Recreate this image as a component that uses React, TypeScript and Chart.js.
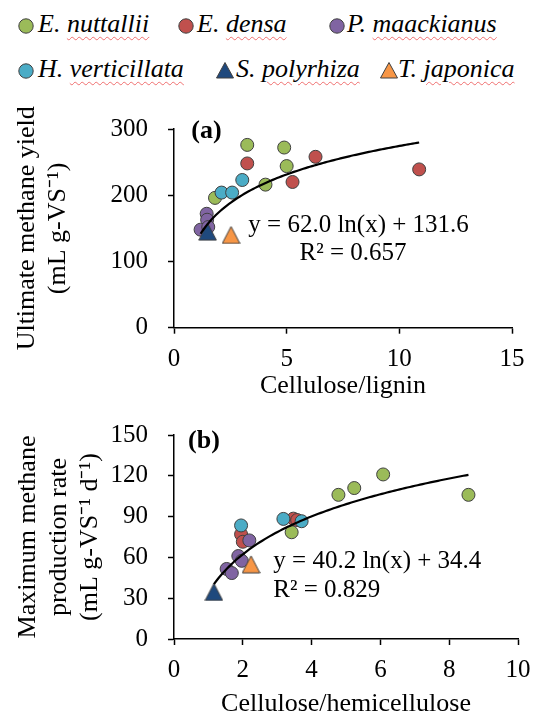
import React, { useEffect, useRef } from 'react';
import { Chart, registerables } from 'chart.js';

Chart.register(...registerables);

const FONT = '"Liberation Serif", "Times New Roman", Times, serif';

// ---- Series (legend order) ----
const speciesGenus = ['E.', 'E.', 'P.', 'H.', 'S.', 'T.'];
const speciesEpithet = ['nuttallii', 'densa', 'maackianus', 'verticillata', 'polyrhiza', 'japonica'];
const speciesColors = ['#9BBB59', '#C0504D', '#8064A2', '#4BACC6', '#1F497D', '#F79646'];
const speciesMarkers = ['circle', 'circle', 'circle', 'circle', 'triangle', 'triangle'];

// ---- Panel (a): Cellulose/lignin vs ultimate methane yield ----
const aNuttallii = [[3.25, 276], [4.89, 272], [5.0, 244], [4.06, 216], [1.82, 196]];
const aDensa = [[3.25, 248], [6.28, 258], [5.26, 220], [10.88, 239]];
const aMaackianus = [[1.45, 172], [1.47, 163], [1.18, 148], [1.52, 152]];
const aVerticillata = [[3.03, 223], [2.11, 204], [2.58, 204]];
const aPolyrhiza = [[1.49, 145]];
const aJaponica = [[2.53, 140]];

// ---- Panel (b): Cellulose/hemicellulose vs maximum methane production rate ----
const bNuttallii = [[6.08, 121], [5.24, 111], [4.78, 106], [8.56, 106], [3.42, 78.5]];
const bDensa = [[3.47, 88.5], [3.58, 87.5], [1.95, 77], [2.0, 71.5]];
const bMaackianus = [[2.19, 72.5], [1.87, 61], [1.97, 57.5], [1.53, 51.5], [1.68, 48.5]];
const bVerticillata = [[1.95, 83.5], [3.18, 88.3], [3.71, 86.6]];
const bPolyrhiza = [[1.16, 34.6]];
const bJaponica = [[2.24, 54.9]];

// ---- Ticks ----
const xTicksA = [0, 5, 10, 15];
const yTicksA = [0, 100, 200, 300];
const xTicksB = [0, 2, 4, 6, 8, 10];
const yTicksB = [0, 30, 60, 90, 120, 150];

// ---- Logarithmic fits: y = a ln(x) + b ----
const fitA = [62.0, 131.6];
const fitB = [40.2, 34.4];
const r2A = '0.657';
const r2B = '0.829';

// ---- Titles ----
const xTitleA = 'Cellulose/lignin';
const yTitleA = ['Ultimate methane yield', '(mL g-VS\u207B\u00B9)'];
const xTitleB = 'Cellulose/hemicellulose';
const yTitleB = ['Maximum methane', 'production rate', '(mL g-VS\u207B\u00B9 d\u207B\u00B9)'];

function triangleImage(color: string) {
  const c = document.createElement('canvas');
  const s = 19;
  c.width = s;
  c.height = s;
  const g = c.getContext('2d')!;
  g.beginPath();
  g.moveTo(s / 2, 1);
  g.lineTo(s - 0.7, s - 1);
  g.lineTo(0.7, s - 1);
  g.closePath();
  g.fillStyle = color;
  g.fill();
  g.strokeStyle = '#404040';
  g.lineWidth = 1;
  g.stroke();
  return c;
}

function buildDatasets(series: number[][][], fit: number[]) {
  const ds: any[] = series.map((pts, i) => ({
    label: speciesGenus[i] + ' ' + speciesEpithet[i],
    data: pts.map(([x, y]) => ({ x, y })),
    backgroundColor: speciesColors[i],
    borderColor: '#404040',
    borderWidth: 1,
    pointStyle: speciesMarkers[i] === 'triangle' ? triangleImage(speciesColors[i]) : 'circle',
    pointRadius: 6.5,
    showLine: false,
    order: series.length - i,
  }));
  const xs = series.flat().map((p) => p[0]);
  const lo = Math.min(...xs);
  const hi = Math.max(...xs);
  const n = 100;
  const trend: { x: number; y: number }[] = [];
  for (let k = 0; k <= n; k++) {
    const x = lo + ((hi - lo) * k) / n;
    trend.push({ x, y: fit[0] * Math.log(x) + fit[1] });
  }
  ds.push({
    label: 'Log trend',
    data: trend,
    showLine: true,
    borderColor: '#000',
    backgroundColor: '#000',
    borderWidth: 2.2,
    pointRadius: 0,
    fill: false,
    order: 0,
  });
  return ds;
}

type Note = { text: string; x: number; y: number; align: CanvasTextAlign; font: string };

function notesPlugin(notes: Note[]) {
  return {
    id: 'notes',
    afterDraw(chart: any) {
      const ctx = chart.ctx;
      ctx.save();
      ctx.fillStyle = '#000';
      ctx.textBaseline = 'middle';
      notes.forEach((n) => {
        ctx.font = n.font;
        ctx.textAlign = n.align;
        ctx.fillText(n.text, n.x, n.y);
      });
      ctx.restore();
    },
  };
}

function axisX(ticks: number[], title: string, height: number, tickPad: number, titlePadBottom: number) {
  return {
    type: 'linear',
    min: ticks[0],
    max: ticks[ticks.length - 1],
    afterBuildTicks: (s: any) => {
      s.ticks = ticks.map((v) => ({ value: v }));
    },
    afterFit: (s: any) => {
      s.height = height;
    },
    grid: { display: true, drawOnChartArea: false, drawTicks: true, tickLength: 6, tickColor: '#000', tickWidth: 1.5 },
    border: { display: true, color: '#000', width: 1.5 },
    ticks: { color: '#000', font: { family: FONT, size: 25 }, padding: tickPad, maxRotation: 0, autoSkip: false },
    title: {
      display: true,
      text: title,
      color: '#000',
      font: { family: FONT, size: 26, lineHeight: 1.2 },
      padding: { top: 0, bottom: titlePadBottom },
    },
  };
}

function axisY(ticks: number[], title: string[], width: number, titlePadTop: number) {
  return {
    type: 'linear',
    min: ticks[0],
    max: ticks[ticks.length - 1],
    afterBuildTicks: (s: any) => {
      s.ticks = ticks.map((v) => ({ value: v }));
    },
    afterFit: (s: any) => {
      s.width = width;
    },
    grid: { display: true, drawOnChartArea: false, drawTicks: true, tickLength: 6, tickColor: '#000', tickWidth: 1.5 },
    border: { display: true, color: '#000', width: 1.5 },
    ticks: { color: '#000', font: { family: FONT, size: 25 }, padding: 20, autoSkip: false },
    title: {
      display: true,
      text: title,
      color: '#000',
      font: { family: FONT, size: 26, lineHeight: 1.2 },
      padding: { top: titlePadTop, bottom: 0 },
    },
  };
}

// Canvas placement (page px)
const TOP_A = 90;
const H_A = 312;
const TOP_B = 400;
const H_B = 322;

const legendSlots = [
  { row: 0, mx: 25.8, tx: 38 },
  { row: 0, mx: 185.5, tx: 197 },
  { row: 0, mx: 336.5, tx: 347 },
  { row: 1, mx: 25.8, tx: 38 },
  { row: 1, mx: 225, tx: 236 },
  { row: 1, mx: 388.5, tx: 398 },
];
const rowBaseline = [33, 78];
const rowMarkerY = [25.8, 71];

function Legend() {
  return (
    <>
      {legendSlots.map((slot, i) => {
        const cy = rowMarkerY[slot.row];
        const color = speciesColors[i];
        return (
          <React.Fragment key={i}>
            <svg
              width={22}
              height={22}
              style={{ position: 'absolute', left: slot.mx - 11, top: cy - 11 }}
            >
              {speciesMarkers[i] === 'circle' ? (
                <circle cx={11} cy={11} r={7.2} fill={color} stroke="#404040" strokeWidth={1} />
              ) : (
                <polygon points="11,2.5 19.5,18 2.5,18" fill={color} stroke="#404040" strokeWidth={1} />
              )}
            </svg>
            <div
              style={{
                position: 'absolute',
                left: slot.tx,
                top: rowBaseline[slot.row] - 23.8,
                fontFamily: FONT,
                fontStyle: 'italic',
                fontSize: 26,
                lineHeight: '30px',
                whiteSpace: 'nowrap',
                color: '#000',
              }}
            >
              {speciesGenus[i]}{' '}
              <span
                style={{
                  textDecorationLine: 'underline',
                  textDecorationStyle: 'wavy',
                  textDecorationColor: 'rgba(235,70,70,0.75)',
                  textDecorationThickness: '1px',
                  textUnderlineOffset: '4px',
                }}
              >
                {speciesEpithet[i]}
              </span>
            </div>
          </React.Fragment>
        );
      })}
    </>
  );
}

export default function App() {
  const refA = useRef<HTMLCanvasElement>(null);
  const refB = useRef<HTMLCanvasElement>(null);

  useEffect(() => {
    const eqA = `y = ${fitA[0].toFixed(1)} ln(x) + ${fitA[1].toFixed(1)}`;
    const eqB = `y = ${fitB[0].toFixed(1)} ln(x) + ${fitB[1].toFixed(1)}`;

    const chartA = new Chart(refA.current!, {
      type: 'scatter',
      data: {
        datasets: buildDatasets(
          [aNuttallii, aDensa, aMaackianus, aVerticillata, aPolyrhiza, aJaponica],
          fitA
        ),
      },
      options: {
        animation: false,
        responsive: false,
        events: [],
        layout: { padding: { left: 0, right: 32, top: 129 - TOP_A, bottom: 0 } },
        plugins: { legend: { display: false }, tooltip: { enabled: false } },
        scales: {
          x: axisX(xTicksA, xTitleA, H_A - (327.7 - TOP_A), 11, 0) as any,
          y: axisY(yTicksA, yTitleA, 174, 11.4) as any,
        },
      },
      plugins: [
        notesPlugin([
          { text: '(a)', x: 206.5, y: 131 - TOP_A, align: 'center', font: `bold 26px ${FONT}` },
          { text: eqA, x: 248.3, y: 225 - TOP_A, align: 'left', font: `25px ${FONT}` },
          { text: `R\u00B2 = ${r2A}`, x: 353, y: 253 - TOP_A, align: 'center', font: `25px ${FONT}` },
        ]) as any,
      ],
    });

    const chartB = new Chart(refB.current!, {
      type: 'scatter',
      data: {
        datasets: buildDatasets(
          [bNuttallii, bDensa, bMaackianus, bVerticillata, bPolyrhiza, bJaponica],
          fitB
        ),
      },
      options: {
        animation: false,
        responsive: false,
        events: [],
        layout: { padding: { left: 0, right: 26, top: 434 - TOP_B, bottom: 0 } },
        plugins: { legend: { display: false }, tooltip: { enabled: false } },
        scales: {
          x: axisX(xTicksB, xTitleB, H_B - (639 - TOP_B), 10, 2.4) as any,
          y: axisY(yTicksB, yTitleB, 174, 12.4) as any,
        },
      },
      plugins: [
        notesPlugin([
          { text: '(b)', x: 204, y: 441 - TOP_B, align: 'center', font: `bold 26px ${FONT}` },
          { text: eqB, x: 273.3, y: 561.7 - TOP_B, align: 'left', font: `25px ${FONT}` },
          { text: `R\u00B2 = ${r2B}`, x: 273.3, y: 590 - TOP_B, align: 'left', font: `25px ${FONT}` },
        ]) as any,
      ],
    });

    return () => {
      chartA.destroy();
      chartB.destroy();
    };
  }, []);

  return (
    <div
      style={{
        position: 'absolute',
        left: 0,
        top: 0,
        width: 544,
        height: 715,
        overflow: 'hidden',
        background: '#fff',
      }}
    >
      <Legend />
      <canvas
        ref={refA}
        width={544}
        height={H_A}
        style={{ position: 'absolute', left: 0, top: TOP_A, width: 544, height: H_A }}
      />
      <canvas
        ref={refB}
        width={544}
        height={H_B}
        style={{ position: 'absolute', left: 0, top: TOP_B, width: 544, height: H_B }}
      />
    </div>
  );
}
